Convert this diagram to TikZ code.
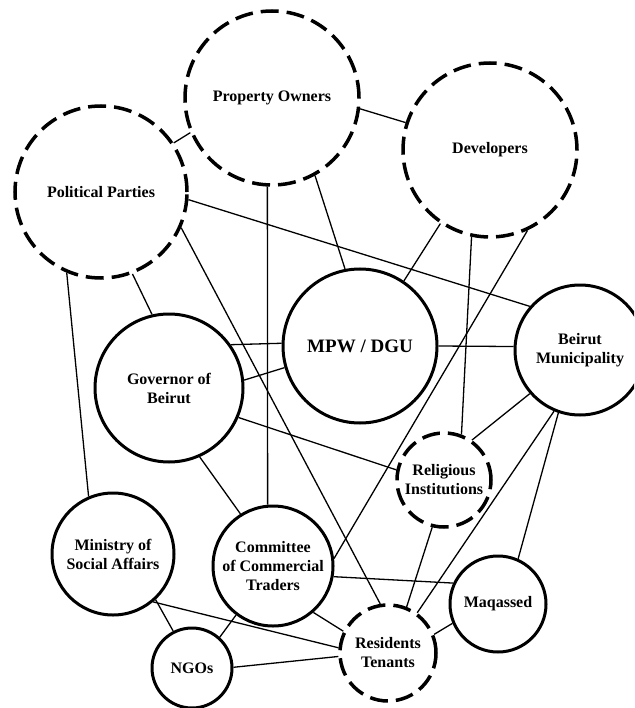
\documentclass[tikz,border=0pt]{standalone}
\usepackage{fontspec}
\setmainfont{Liberation Serif}

\begin{document}
\begin{tikzpicture}[x=1pt,y=-1pt]
      \tikzstyle{actor}=[circle,line width=3pt,draw=black,inner sep=0pt,align=center,font=\bfseries\fontsize{16}{19}\selectfont]
      \tikzstyle{informal}=[actor,line width=3.5pt,dash pattern=on 18pt off 8pt]
      \tikzstyle{tie}=[line width=1.3pt]

      \clip (0,0) rectangle (634,708);

      % informal actors
      \node[informal,minimum size=174pt](po) at (272,98) {Property Owners};
      \node[informal,minimum size=174pt](dev) at (490,150) {Developers};
      \node[informal,minimum size=172pt](pp) at (101,192) {Political Parties};
      \node[informal,minimum size=94pt](ri) at (444,480) {Religious\\Institutions};
      \node[informal,minimum size=96pt](rt) at (388,653) {Residents\\Tenants};

      % public bodies
      \node[actor,minimum size=154pt,font=\bfseries\fontsize{19}{22}\selectfont](mpw) at (360,346) {MPW / DGU};
      \node[actor,minimum size=130pt](bm) at (580,350) {Beirut\\Municipality};
      \node[actor,minimum size=148pt](gov) at (169,388) {Governor of\\Beirut};
      \node[actor,minimum size=122pt](msa) at (113,554) {Ministry of\\Social Affairs};
      \node[actor,minimum size=120pt](cct) at (273,566) {Committee\\of Commercial\\Traders};
      \node[actor,minimum size=96pt](maq) at (498,604) {Maqassed};
      \node[actor,minimum size=80pt](ngo) at (192,668) {NGOs};

      \path[tie]
      (po.203) edge (pp.34)
      (po.353) edge (dev.162)
      (po.299) edge (mpw.101)
      (po.267) edge (cct.95)
      (dev.236) edge (mpw.56)
      (dev.258) edge (ri.69)
      (dev.295) edge (cct.7)
      (pp.355) edge (bm.139)
      (pp.291) edge (gov.103)
      (pp.336) edge (rt.99)
      (pp.247) edge (msa.113)
      (mpw.178) edge (gov.35)
      (mpw.196) edge (gov.6)
      (mpw.0) edge (bm.177)
      (bm.221) edge (ri.55)
      (bm.247) edge (rt.54)
      (bm.251) edge (maq.66)
      (gov.337) edge (ri.168)
      (gov.294) edge (cct.122)
      (ri.256) edge (rt.68)
      (cct.350) edge (maq.155)
      (cct.311) edge (rt.154)
      (cct.233) edge (ngo.48)
      (maq.203) edge (rt.22)
      (msa.310) edge (rt.174)
      (msa.313) edge (ngo.117)
      (ngo.1) edge (rt.184);
\end{tikzpicture}
\end{document}
